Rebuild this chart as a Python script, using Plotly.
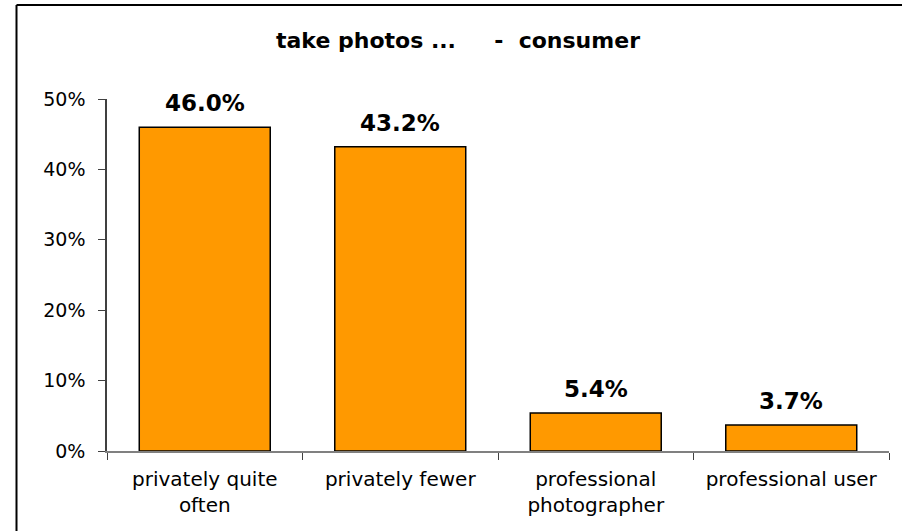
import plotly.graph_objects as go

# Survey answers: how often people take photos (consumer group)
categories = ["privately quite often", "privately fewer",
              "professional photographer", "professional user"]
tick_text = ["privately quite<br>often", "privately fewer",
             "professional<br>photographer", "professional user"]
shares = [46.0, 43.2, 5.4, 3.7]
y_ticks = [0, 10, 20, 30, 40, 50]
y_tick_text = ["0%", "10%", "20%", "30%", "40%", "50%"]
title_text = "take photos ...\u00a0\u00a0\u00a0\u00a0\u00a0-\u00a0\u00a0consumer"

W, H = 902, 531
ML, MR, MT, MB = 107, 13, 99, 80
PW, PH = W - ML - MR, H - MT - MB

FONT = "DejaVu Sans"


def px_to_paper_x(px):
    return (px - ML) / PW


def px_to_paper_y(py):
    return (H - MB - py) / PH


fig = go.Figure(
    go.Bar(
        x=categories,
        y=shares,
        marker=dict(color="#FF9900", line=dict(color="#000000", width=1.5)),
        hoverinfo="skip",
    )
)

# value labels above each bar
for cat, val in zip(categories, shares):
    fig.add_annotation(
        x=cat, y=val, text=f"{val:.1f}%", showarrow=False,
        xanchor="center", yanchor="bottom", yshift=9,
        font=dict(family=FONT, size=23, color="#000000", weight="bold"),
    )

# outer frame (left and top edges)
frame = dict(color="#000000", width=2)
fig.add_shape(type="line", xref="paper", yref="paper",
              x0=px_to_paper_x(16.5), x1=px_to_paper_x(W + 5),
              y0=px_to_paper_y(5), y1=px_to_paper_y(5), line=frame)
fig.add_shape(type="line", xref="paper", yref="paper",
              x0=px_to_paper_x(16.5), x1=px_to_paper_x(16.5),
              y0=px_to_paper_y(5), y1=px_to_paper_y(H + 5), line=frame)

fig.update_layout(
    width=W, height=H,
    margin=dict(l=ML, r=MR, t=MT, b=MB, pad=0),
    paper_bgcolor="#FFFFFF", plot_bgcolor="#FFFFFF",
    bargap=0.33,
    showlegend=False,
    title=dict(
        text=title_text, x=458 / W, xanchor="center",
        y=1 - 40 / H, yanchor="middle",
        font=dict(family=FONT, size=22, color="#000000", weight="bold"),
    ),
    xaxis=dict(
        tickmode="array", tickvals=categories, ticktext=tick_text,
        tickson="boundaries", ticks="outside", ticklen=7, tickwidth=1,
        tickcolor="#404040", ticklabelstandoff=9,
        showline=True, linecolor="#808080", linewidth=2,
        showgrid=False, zeroline=False,
        tickfont=dict(family=FONT, size=20, color="#000000"),
    ),
    yaxis=dict(
        range=[0, 50], tickmode="array", tickvals=y_ticks, ticktext=y_tick_text,
        ticks="outside", ticklen=7, tickwidth=1, tickcolor="#404040",
        ticklabelstandoff=9,
        showline=True, linecolor="#404040", linewidth=1.5,
        showgrid=False, zeroline=False,
        tickfont=dict(family=FONT, size=19, color="#000000"),
    ),
)

fig.write_html("out.html")
